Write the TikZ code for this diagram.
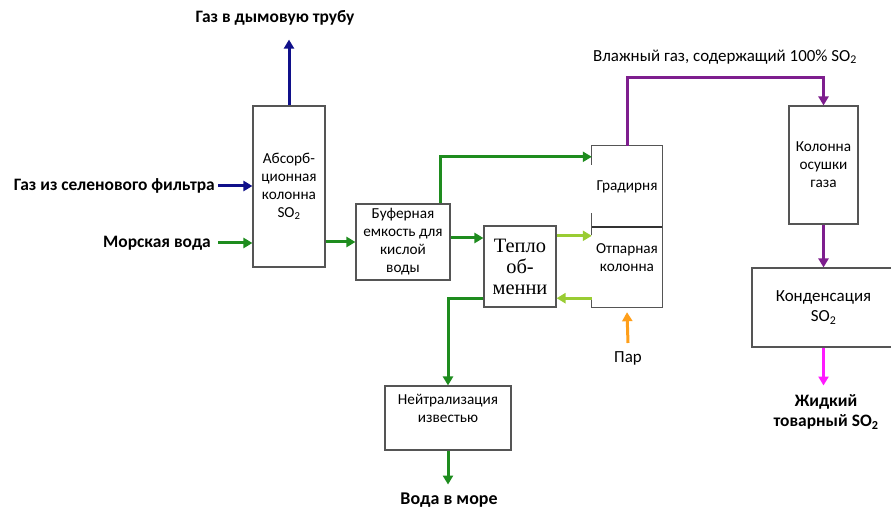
\documentclass[tikz,border=0pt]{standalone}
\usepackage{fontspec}
\setmainfont{Carlito}
\newfontfamily\teplofont{Liberation Serif}
\usepackage{tikz}
\usetikzlibrary{arrows.meta,positioning,calc}
\definecolor{flowblue}{HTML}{10108A}
\definecolor{flowgreen}{HTML}{1E8C1E}
\definecolor{flowlight}{HTML}{99CC33}
\definecolor{flowpurple}{HTML}{7E1E8E}
\definecolor{flowmag}{HTML}{FF1AFF}
\definecolor{floworange}{HTML}{FF9F1A}
\definecolor{boxline}{HTML}{555555}

\begin{document}
\begin{tikzpicture}[x=1bp, y=-1bp,
      unit/.style={draw=boxline, line width=1.1bp, align=center, inner sep=1bp,
                 font=\fontsize{15.3}{18}\selectfont},
      lbl/.style={font=\fontsize{15.3}{18}\selectfont, align=center, inner sep=1bp},
      blbl/.style={font=\fontsize{17.5}{20}\selectfont\bfseries, align=center, inner sep=1bp},
      arr/.style={-{Triangle[length=9bp,width=10bp]}, line width=3bp},
      barr/.style={arr, flowblue},
      garr/.style={arr, flowgreen},
      larr/.style={arr, flowlight},
      parr/.style={arr, flowpurple},
      marr/.style={arr, flowmag},
      oarr/.style={arr, floworange}]
    \useasboundingbox (0,0) rectangle (891,509);
    % units
    \node[unit, minimum width=72bp, minimum height=161bp] (absorb) at (289,186.5)
      {Абсорб-\\ционная\\колонна\\SO\textsubscript{2}};
    \node[unit, minimum width=94bp, minimum height=76bp] (buffer) at (403,242)
      {Буферная\\емкость для\\кислой\\воды};
    \node[unit, minimum width=72bp, minimum height=81bp, font=\teplofont\fontsize{20.5}{21}\selectfont] (teplo) at (520,266.5)
      {Тепло\\об-\\менни};
    \node[lbl, minimum width=70bp, minimum height=81bp] (grad) at (627,186.5) {Градирня};
    \node[lbl, minimum width=70bp, minimum height=80bp] (otp) at (627,267) {Отпарная\\колонна\\[1bp]};
    \node[unit, minimum width=69bp, minimum height=118bp] (dryer) at (823.5,165)
      {Колонна\\осушки\\газа};
    \node[unit, minimum width=143bp, minimum height=79bp, font=\fontsize{17}{20}\selectfont] (cond) at (823.5,307.5)
      {Конденсация\\SO\textsubscript{2}};
    \node[unit, minimum width=126bp, minimum height=64bp] (neutr) at (448,418)
      {Нейтрализация\\известью\\[1bp]};
    % stripper outline
    \draw[draw=boxline, line width=1.1bp] ([yshift=-19bp]grad.north west) |- (grad.north east)
      -- (otp.south east) -| ([yshift=7bp]otp.south west);
    \draw[draw=boxline, line width=1.1bp] ([yshift=14bp]grad.south west) -- ([yshift=-8bp]otp.north west);
    \draw[draw=black!80, line width=1.8bp] (grad.south west) -- (grad.south east);
    % labels
    \node[blbl] (flue) at (275,18) {Газ в дымовую трубу};
    \node[blbl, anchor=east] (selen) at (216,186) {Газ из селенового фильтра};
    \node[blbl, anchor=east] (sea) at (212,243) {Морская вода};
    \node[lbl, font=\fontsize{17}{20}\selectfont] (wetgas) at (725,57) {Влажный газ, содержащий 100\% SO\textsubscript{2}};
    \node[lbl, font=\fontsize{17}{20}\selectfont] (steam) at (628,358) {Пар};
    \node[blbl] (product) at (826,412) {Жидкий\\товарный SO\textsubscript{2}};
    \node[blbl, font=\fontsize{18}{20}\selectfont\bfseries] (seaout) at (449,500) {Вода в море};
    % flows
    \draw[barr] (absorb.north) -- ([yshift=-13bp]absorb.north |- flue.south);
    \draw[barr] ([xshift=2bp]selen.east) -- (absorb.west |- selen.east);
    \draw[garr] ([xshift=6bp]sea.east) -- (absorb.west |- sea.east);
    \draw[garr] (absorb.east |- buffer.west) -- (buffer.west);
    \draw[garr] ([xshift=37bp]buffer.north) |- ([yshift=-11bp]grad.north west);
    \draw[garr] ([yshift=4bp]buffer.east) -- ([yshift=4bp]buffer.east -| teplo.west);
    \draw[larr] ([yshift=-9bp]otp.north west -| teplo.east) -- ([yshift=-9bp]otp.north west);
    \draw[larr] ([yshift=9bp]otp.south west) -- ([yshift=9bp]otp.south west -| teplo.east);
    \draw[garr] ([yshift=9bp]teplo.south west) -| (neutr.north);
    \draw[garr] (neutr.south) -- ([yshift=7bp]neutr.south |- seaout.north);
    \draw[parr] (grad.north) -- ++(0,-68) -| (dryer.north);
    \draw[parr] (dryer.south) -- (cond.north);
    \draw[marr] (cond.south) -- ([yshift=8bp]cond.south |- product.north);
    \draw[oarr] ([yshift=7bp]steam.north) -- ([yshift=-5bp]otp.south);
  \end{tikzpicture}
\end{document}
